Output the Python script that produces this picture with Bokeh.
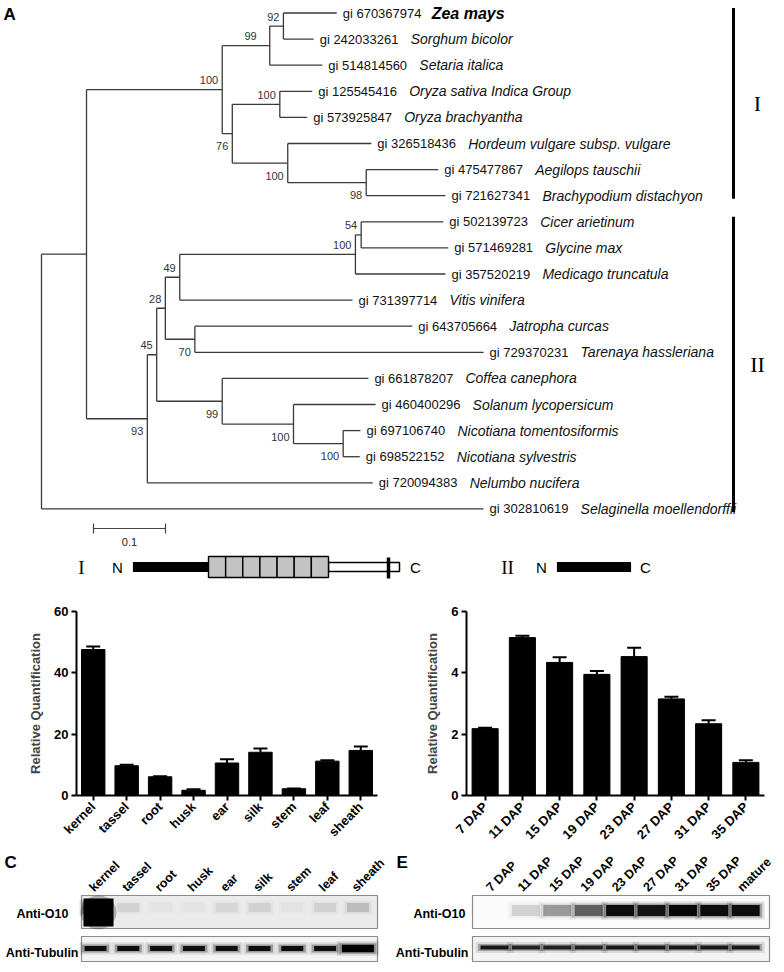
import math
from bokeh.plotting import figure
from bokeh.layouts import column, row
from bokeh.models import Range1d, FactorRange, FixedTicker, ColumnDataSource, Whisker, TeeHead, Label
from bokeh.core.properties import value
from bokeh.embed import file_html
from bokeh.resources import INLINE

SANS = "Liberation Sans"
SERIF = "Liberation Serif"

# ---------------- data: panel A (tree) ----------------
leaf_gi = ["670367974", "242033261", "514814560", "125545416", "573925847",
           "326518436", "475477867", "721627341", "502139723", "571469281",
           "357520219", "731397714", "643705664", "729370231", "661878207",
           "460400296", "697106740", "698522152", "720094383", "302810619"]
leaf_species = ["Zea mays", "Sorghum bicolor", "Setaria italica",
                "Oryza sativa Indica Group", "Oryza brachyantha",
                "Hordeum vulgare subsp. vulgare", "Aegilops tauschii",
                "Brachypodium distachyon", "Cicer arietinum", "Glycine max",
                "Medicago truncatula", "Vitis vinifera", "Jatropha curcas",
                "Tarenaya hassleriana", "Coffea canephora", "Solanum lycopersicum",
                "Nicotiana tomentosiformis", "Nicotiana sylvestris",
                "Nelumbo nucifera", "Selaginella moellendorffii"]
# distance of every tip from the root (substitutions per site)
leaf_tip = [0.410, 0.378, 0.390, 0.376, 0.369, 0.458, 0.551, 0.561, 0.558, 0.565,
            0.561, 0.432, 0.515, 0.614, 0.454, 0.464, 0.443, 0.442, 0.460, 0.614]

node_names = ["ZS", "ZSS", "Ory", "AB", "Hor", "c76", "mono", "CG", "leg", "c49",
              "c70", "c28", "Nic", "Sol", "c99", "c45", "c93", "angio", "root"]
node_children = [(0, 1), ("ZS", 2), (3, 4), (6, 7), (5, "AB"), ("Ory", "Hor"),
                 ("ZSS", "c76"), (8, 9), ("CG", 10), ("leg", 11), (12, 13),
                 ("c49", "c70"), (16, 17), (15, "Nic"), (14, "Sol"), ("c28", "c99"),
                 ("c45", 18), ("mono", "c93"), ("angio", 19)]
node_depth = [0.336, 0.317, 0.331, 0.451, 0.342, 0.265, 0.251, 0.444, 0.436, 0.192,
              0.213, 0.172, 0.419, 0.350, 0.251, 0.160, 0.147, 0.0625, 0.0]
node_support = [92, 99, 100, 98, 100, 76, 100, 54, 100, 49,
                70, 28, 100, 100, 99, 45, 93, None, None]
node_label_side = ["above", "above", "above", "below", "below", "below", "above",
                   "above", "above", "above", "below", "above", "below", "below",
                   "below", "above", "below", None, None]

group_names = ["I", "II"]
group_leaves = [(0, 7), (8, 19)]
scale_bar_len = 0.1

# ---------------- data: panels B-E ----------------
tissues = ["kernel", "tassel", "root", "husk", "ear", "silk", "stem", "leaf", "sheath"]
tissue_rq = [47.6, 9.7, 6.1, 1.7, 10.6, 14.1, 2.2, 11.2, 14.7]
tissue_err = [1.0, 0.3, 0.2, 0.3, 1.2, 1.2, 0.1, 0.3, 1.3]

dap_days = ["7 DAP", "11 DAP", "15 DAP", "19 DAP", "23 DAP", "27 DAP", "31 DAP", "35 DAP"]
dap_rq = [2.18, 5.15, 4.34, 3.95, 4.53, 3.15, 2.34, 1.08]
dap_err = [0.03, 0.06, 0.17, 0.11, 0.29, 0.07, 0.11, 0.07]

blot_c_o10 = [1.0, 0.07, 0.02, 0.02, 0.06, 0.08, 0.02, 0.08, 0.14]
blot_c_tub = [0.92, 0.92, 0.9, 0.9, 0.9, 0.92, 0.92, 0.9, 1.0]
blot_e_lanes = dap_days + ["mature"]
blot_e_o10 = [0.0, 0.12, 0.3, 0.52, 0.92, 0.88, 0.95, 0.92, 0.92]
blot_e_tub = [0.85, 0.8, 0.8, 0.8, 0.85, 0.85, 0.85, 0.85, 0.85]

# ================= Panel A =================
TOP_H = 585

def ax(px):
    return (px - 41.0) / 720.0

def ay(py):
    return -(py - 12.5) / 26.1

pA = figure(width=784, height=TOP_H, x_range=Range1d(ax(0), ax(784)),
            y_range=Range1d(ay(TOP_H), ay(0)), output_backend="svg",
            toolbar_location=None, x_axis_type=None, y_axis_type=None,
            min_border=0, outline_line_color=None)

node_y = {}
node_x = {}

def y_of(c):
    return -float(c) if isinstance(c, int) else node_y[c]

def x_of(c):
    return leaf_tip[c] if isinstance(c, int) else node_x[c]

for name, ch, d in zip(node_names, node_children, node_depth):
    node_y[name] = (y_of(ch[0]) + y_of(ch[-1])) / 2.0
    node_x[name] = d

sx0, sy0, sx1, sy1 = [], [], [], []
for name, ch, d in zip(node_names, node_children, node_depth):
    sx0.append(d); sy0.append(y_of(ch[0])); sx1.append(d); sy1.append(y_of(ch[-1]))
    for c in ch:
        sx0.append(d); sy0.append(y_of(c)); sx1.append(x_of(c)); sy1.append(y_of(c))
pA.segment(sx0, sy0, sx1, sy1, line_color="#3a3a3a", line_width=1.3)

n = len(leaf_gi)
ly = [-float(i) for i in range(n)]
pA.text([t + 6 / 720 for t in leaf_tip], ly, text=["gi " + g for g in leaf_gi],
        text_font=value(SANS), text_font_size="13px", text_baseline="middle",
        text_color="#111111")
pA.text([t + 97 / 720 for t in leaf_tip[1:]], ly[1:], text=leaf_species[1:],
        text_font=value(SANS), text_font_size="14px", text_font_style="italic",
        text_baseline="middle", text_color="#111111")
pA.text([leaf_tip[0] + 95 / 720], [ly[0]], text=[leaf_species[0]],
        text_font=value(SANS), text_font_size="16px", text_font_style="bold italic",
        text_baseline="middle", text_color="#000000")

bx, by, bt = [], [], []
for name, sup, side in zip(node_names, node_support, node_label_side):
    if sup is None:
        continue
    extra = 9 if name == "ZSS" else 0
    bx.append(node_x[name] - (4 + extra) / 720)
    by.append(node_y[name] + (9.5 / 26.1 if side == "above" else -12.5 / 26.1))
    bt.append(str(sup))
pA.text(bx, by, text=bt, text_font=value(SANS), text_font_size="11px",
        text_align="right", text_baseline="middle", text_color="#333333")

# clade bars
for gname, (a, b) in zip(group_names, group_leaves):
    top = -a + 5 / 26.1
    bot = -b - 3 / 26.1
    pA.segment([ax(733)], [top], [ax(733)], [bot], line_color="black", line_width=3)
    pA.text([ax(757)], [(top + bot) / 2], text=[gname], text_font=value(SERIF),
            text_font_size="22px", text_align="center", text_baseline="middle",
            text_color="black")

# scale bar
sb0 = ax(93)
pA.segment([sb0, sb0, sb0 + scale_bar_len], [ay(528), ay(523), ay(523)],
           [sb0 + scale_bar_len, sb0, sb0 + scale_bar_len], [ay(528), ay(533), ay(533)],
           line_color="#444444", line_width=1.2)
pA.text([sb0 + scale_bar_len / 2], [ay(541)], text=[str(scale_bar_len)],
        text_font=value(SANS), text_font_size="11px", text_align="center",
        text_baseline="middle", text_color="#222222")

# domain schematics (pixel layout)
dy = ay(567)
def hrect(p0, p1, q0, q1, fill, lw=1.2, lc="black"):
    pA.quad(left=[ax(p0)], right=[ax(p1)], top=[ay(q0)], bottom=[ay(q1)],
            fill_color=fill, line_color=lc, line_width=lw)

pA.text([ax(81)], [dy], text=["I"], text_font=value(SERIF), text_font_size="19px",
        text_align="center", text_baseline="middle", text_color="black")
pA.text([ax(117), ax(415)], [dy, dy], text=["N", "C"], text_font=value(SANS),
        text_font_size="15px", text_align="center", text_baseline="middle",
        text_color="black")
hrect(133, 208, 562, 571, "black")
hrect(328, 399, 562, 571, "white", lw=1.5)
cells = 7
cw = (328 - 208) / cells
for k in range(cells):
    hrect(208 + k * cw, 208 + (k + 1) * cw, 556, 577, "#c3c3c3", lw=1.4)
pA.segment([ax(388)], [ay(557)], [ax(388)], [ay(578)], line_color="black", line_width=3.5)

pA.text([ax(507)], [dy], text=["II"], text_font=value(SERIF), text_font_size="19px",
        text_align="center", text_baseline="middle", text_color="black")
pA.text([ax(541), ax(645)], [dy, dy], text=["N", "C"], text_font=value(SANS),
        text_font_size="15px", text_align="center", text_baseline="middle",
        text_color="black")
hrect(557, 630, 562, 571, "black")

pA.text([ax(3)], [ay(4)], text=["A"], text_font=value(SANS), text_font_size="17px",
        text_font_style="bold", text_baseline="top", text_color="black")

# ================= Panels B and D =================
MID_H = 265
BOT_B = 55

def bar_panel(cats, vals, errs, width, left, right, top, ymax, ticks, letter, letter_x):
    src = ColumnDataSource(dict(x=cats, top=vals,
                                upper=[v + e for v, e in zip(vals, errs)],
                                lower=vals))
    p = figure(width=width, height=MID_H, x_range=FactorRange(*cats),
               y_range=Range1d(0, ymax), output_backend="svg", toolbar_location=None,
               min_border_left=left, min_border_right=right, min_border_top=top,
               min_border_bottom=BOT_B, outline_line_color=None)
    p.vbar(x="x", top="top", width=0.7, source=src, fill_color="black",
           line_color="black")
    w = Whisker(base="x", upper="upper", lower="lower", source=src,
                line_color="black", line_width=2,
                upper_head=TeeHead(size=14, line_color="black", line_width=2),
                lower_head=None)
    p.add_layout(w)
    p.xgrid.visible = False
    p.ygrid.visible = False
    p.yaxis.ticker = FixedTicker(ticks=ticks)
    for a in (p.xaxis, p.yaxis):
        a.axis_line_width = 2
        a.major_tick_line_width = 2
        a.major_tick_out = 5
        a.major_tick_in = 0
        a.minor_tick_line_color = None
        a.major_label_text_font = SANS
        a.major_label_text_font_style = "bold"
        a.major_label_text_font_size = "13px"
        a.major_label_text_color = "black"
        a.axis_line_color = "black"
        a.major_tick_line_color = "black"
    p.yaxis.major_label_standoff = 3
    p.xaxis.major_label_standoff = 4
    p.xaxis.major_label_orientation = math.pi / 4
    p.yaxis.axis_label = "Relative Quantification"
    p.yaxis.axis_label_text_font = SANS
    p.yaxis.axis_label_text_font_style = "bold"
    p.yaxis.axis_label_text_font_size = "13px"
    p.yaxis.axis_label_standoff = 8
    frame_h = MID_H - BOT_B - top
    p.add_layout(Label(x=letter_x - left, y=frame_h - (604 - TOP_H - top),
                       x_units="screen", y_units="screen", text=letter, text_font=SANS,
                       text_font_size="17px", text_font_style="bold",
                       text_baseline="middle", text_color="black"))
    return p

pB = bar_panel(tissues, tissue_rq, tissue_err, 392, 76, 15, 607 - TOP_H, 60,
               [0, 20, 40, 60], "B", 3)
pD = bar_panel(dap_days, dap_rq, dap_err, 392, 74, 20, 611 - TOP_H, 6,
               [0, 2, 4, 6], "D", 6)

# ================= Panels C and E (blots) =================
Y0 = TOP_H + MID_H
BOT_H = 970 - Y0

def blot_panel(x0, x1, letter, lanes, lane0, lane_dx, box, o10, tub,
               o10_y, o10_h, o10_w, tub_y, tub_h, tub_w, bg_top, lab_x, lab_anchor):
    p = figure(width=int(x1 - x0), height=BOT_H, x_range=Range1d(x0, x1),
               y_range=Range1d(-(Y0 + BOT_H), -Y0), output_backend="svg",
               toolbar_location=None, x_axis_type=None, y_axis_type=None,
               min_border=0, outline_line_color=None)
    bl, br = box
    p.quad(left=[bl], right=[br], top=[-895], bottom=[-928], fill_color=bg_top,
           line_color="#8c8c8c", line_width=1.2)
    p.quad(left=[bl], right=[br], top=[-936], bottom=[-961], fill_color="#f3f3f3",
           line_color="#8c8c8c", line_width=1.2)
    xs = [lane0 + lane_dx * i for i in range(len(lanes))]
    for (ww, hh, aa) in [(10, 7, 0.12), (5, 3, 0.3), (0, 0, 1.0)]:
        p.rect(xs, [-o10_y] * len(xs), width=[o10_w + ww] * len(xs),
               height=[o10_h + hh] * len(xs), fill_color="black",
               fill_alpha=[min(1.0, v * aa) for v in o10], line_color=None)
        tw = [tub_w + ww + (10 if k == len(xs) - 1 and letter == "C" else 0) for k in range(len(xs))]
        th = [tub_h + hh + (2.5 if k == len(xs) - 1 and letter == "C" else 0) for k in range(len(xs))]
        p.rect(xs, [-tub_y] * len(xs), width=tw, height=th, fill_color="black",
               fill_alpha=[min(1.0, v * aa) for v in tub], line_color=None)
    p.text([x - lab_anchor for x in xs], [-889] * len(xs), text=lanes, angle=math.pi / 4,
           text_font=value(SANS), text_font_size="12.5px", text_font_style="bold",
           text_align="left", text_baseline="alphabetic", text_color="black")
    p.text([lab_x[0], lab_x[1]], [-913, -952], text=["Anti-O10", "Anti-Tubulin"],
           text_font=value(SANS), text_font_size="12.5px", text_font_style="bold",
           text_align="right", text_baseline="middle", text_color="black")
    p.text([x0 + 4], [-(Y0 + 2)], text=[letter], text_font=value(SANS),
           text_font_size="17px", text_font_style="bold", text_baseline="top",
           text_color="black")
    return p

pC = blot_panel(0, 392, "C", tissues, 95, 32.8, (81, 377), blot_c_o10, blot_c_tub,
                907, 9, 22, 948, 5, 22, "#ebebeb", (68, 78), 4)
# kernel O10 blob
pC.ellipse([98], [-912], width=[36], height=[34], fill_color="black", fill_alpha=0.25,
           line_color=None)
pC.rect([98], [-912], width=[30], height=[28], fill_color="black", line_color=None)

pE = blot_panel(392, 784, "E", blot_e_lanes, 494, 31.4, (472, 769), blot_e_o10,
                blot_e_tub, 910, 11, 28, 947, 4, 28, "#fbfbfb", (465, 468), 6)

layout = column(pA, row(pB, pD), row(pC, pE))
open("out.html", "w").write(file_html(layout, INLINE))
